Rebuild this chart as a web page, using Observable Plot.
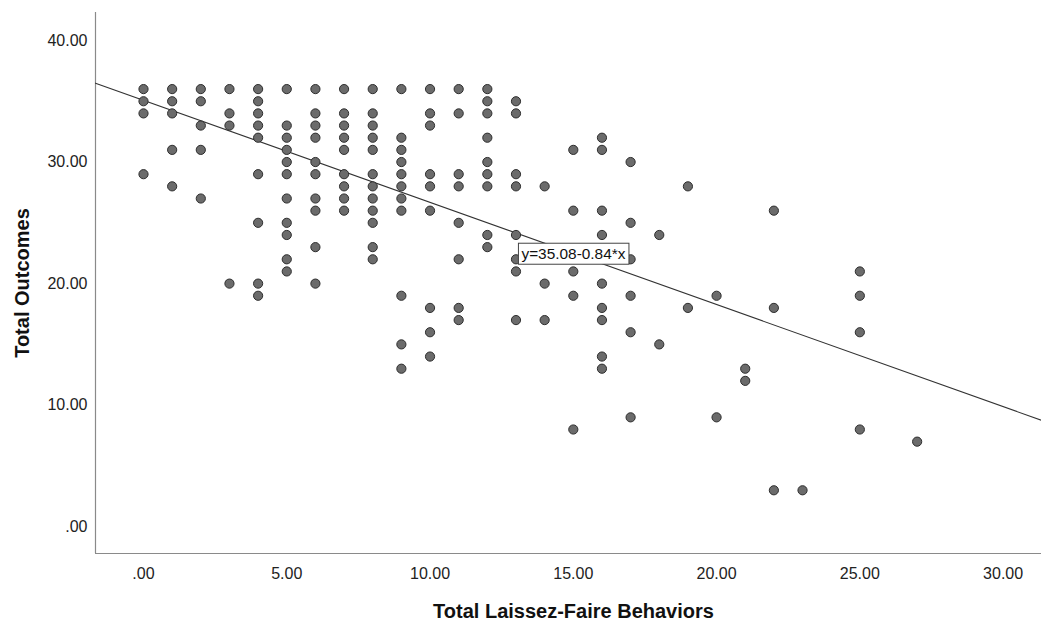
<!DOCTYPE html>
<html>
<head>
<meta charset="utf-8">
<script src="https://cdn.jsdelivr.net/npm/d3@7"></script>
<script src="https://cdn.jsdelivr.net/npm/@observablehq/plot@0.6"></script>
<style>
  html, body { margin: 0; padding: 0; background: #fff; }
  #chart svg { display: block; }
</style>
</head>
<body>
<div id="chart"></div>
<script>
// ---- Data ----
const behaviorValues = [0, 1, 2, 3, 4, 5, 6, 7, 8, 9, 10, 11, 12, 13, 14, 15, 16, 17, 18, 19, 20, 21, 22, 23, 25, 27];
const outcomesByBehavior = [
  [36, 35, 34, 29],
  [36, 35, 34, 31, 28],
  [36, 35, 33, 31, 27],
  [36, 34, 33, 20],
  [36, 35, 34, 33, 32, 29, 25, 20, 19],
  [36, 33, 32, 31, 30, 29, 27, 25, 24, 22, 21],
  [36, 34, 33, 32, 30, 29, 27, 26, 23, 20],
  [36, 34, 33, 32, 31, 29, 28, 27, 26],
  [36, 34, 33, 32, 31, 29, 28, 27, 26, 25, 23, 22],
  [36, 32, 31, 30, 29, 28, 27, 26, 19, 15, 13],
  [36, 34, 33, 29, 28, 26, 18, 16, 14],
  [36, 34, 29, 28, 25, 22, 18, 17],
  [36, 35, 34, 32, 30, 29, 28, 24, 23],
  [35, 34, 29, 28, 24, 22, 21, 17],
  [28, 20, 17],
  [31, 26, 21, 19, 8],
  [32, 31, 26, 24, 20, 18, 17, 14, 13],
  [30, 25, 22, 19, 16, 9],
  [24, 15],
  [28, 18],
  [19, 9],
  [13, 12],
  [26, 18, 3],
  [3],
  [21, 19, 16, 8],
  [7]
];
const xTicks = [0, 5, 10, 15, 20, 25, 30];
const yTicks = [0, 10, 20, 30, 40];
const fitIntercept = 35.08;
const fitSlope = -0.84;
const fitLabel = "y=35.08-0.84*x";
const fitLabelPos = [{x: 13.19, y: 22.4}];
const xTitle = "Total Laissez-Faire Behaviors";
const yTitle = "Total Outcomes";

// ---- Build table ----
const points = behaviorValues.flatMap((b, i) => outcomesByBehavior[i].map(o => ({behavior: b, outcome: o})));
const xDomain = [-1.675, 31.34];
const yDomain = [-2.2, 42.3];
const fitLine = xDomain.map(x => ({x, y: fitIntercept + fitSlope * x}));
const fmt = d => d === 0 ? ".00" : d.toFixed(2);
const font = "'Liberation Sans', Arial, sans-serif";

const chart = Plot.plot({
  width: 1041,
  height: 621,
  marginTop: 12,
  marginBottom: 68,
  marginLeft: 95,
  marginRight: 0,
  style: {fontFamily: font, fontSize: "16px", color: "#222", background: "#fff"},
  x: {domain: xDomain},
  y: {domain: yDomain},
  marks: [
    Plot.axisX(xTicks, {tickSize: 0, tickPadding: 14, tickFormat: fmt, label: null, fontSize: 16}),
    Plot.axisY(yTicks, {tickSize: 0, tickPadding: 8, tickFormat: fmt, label: null, fontSize: 16}),
    Plot.ruleX([xDomain[0]], {stroke: "#8a8a8a", strokeWidth: 1.2}),
    Plot.ruleY([yDomain[0]], {stroke: "#8a8a8a", strokeWidth: 1.2}),
    Plot.line(fitLine, {x: "x", y: "y", stroke: "#333", strokeWidth: 1.1}),
    Plot.dot(points, {x: "behavior", y: "outcome", r: 4.6, fill: "#6b6b6b", stroke: "#2e2e2e", strokeWidth: 1, fillOpacity: 1}),
    Plot.text(fitLabelPos, {x: "x", y: "y", text: () => fitLabel, textAnchor: "start", fontSize: 15, fill: "#111", className: "fit-label"}),
    Plot.text([xTitle], {frameAnchor: "bottom", lineAnchor: "middle", textAnchor: "middle", dy: 58, dx: 5, fontSize: 20, fontWeight: "bold", fill: "#111"}),
    Plot.text([yTitle], {frameAnchor: "left", lineAnchor: "middle", textAnchor: "middle", dx: -73, rotate: -90, fontSize: 20, fontWeight: "bold", fill: "#111"})
  ]
});

document.getElementById("chart").appendChild(chart);

// Box around the regression-equation label, sized from the rendered text
requestAnimationFrame(() => {
  const g = chart.querySelector("g.fit-label");
  if (!g) return;
  const t = g.querySelector("text");
  t.setAttribute("textLength", "104");
  t.setAttribute("lengthAdjust", "spacingAndGlyphs");
  const bb = t.getBBox();
  const rect = document.createElementNS("http://www.w3.org/2000/svg", "rect");
  rect.setAttribute("x", bb.x - 3);
  rect.setAttribute("y", bb.y - 2);
  rect.setAttribute("width", bb.width + 6);
  rect.setAttribute("height", bb.height + 4);
  rect.setAttribute("fill", "#fff");
  rect.setAttribute("stroke", "#444");
  rect.setAttribute("stroke-width", "1");
  if (t.getAttribute("transform")) rect.setAttribute("transform", t.getAttribute("transform"));
  t.parentNode.insertBefore(rect, t);
});
</script>
</body>
</html>
